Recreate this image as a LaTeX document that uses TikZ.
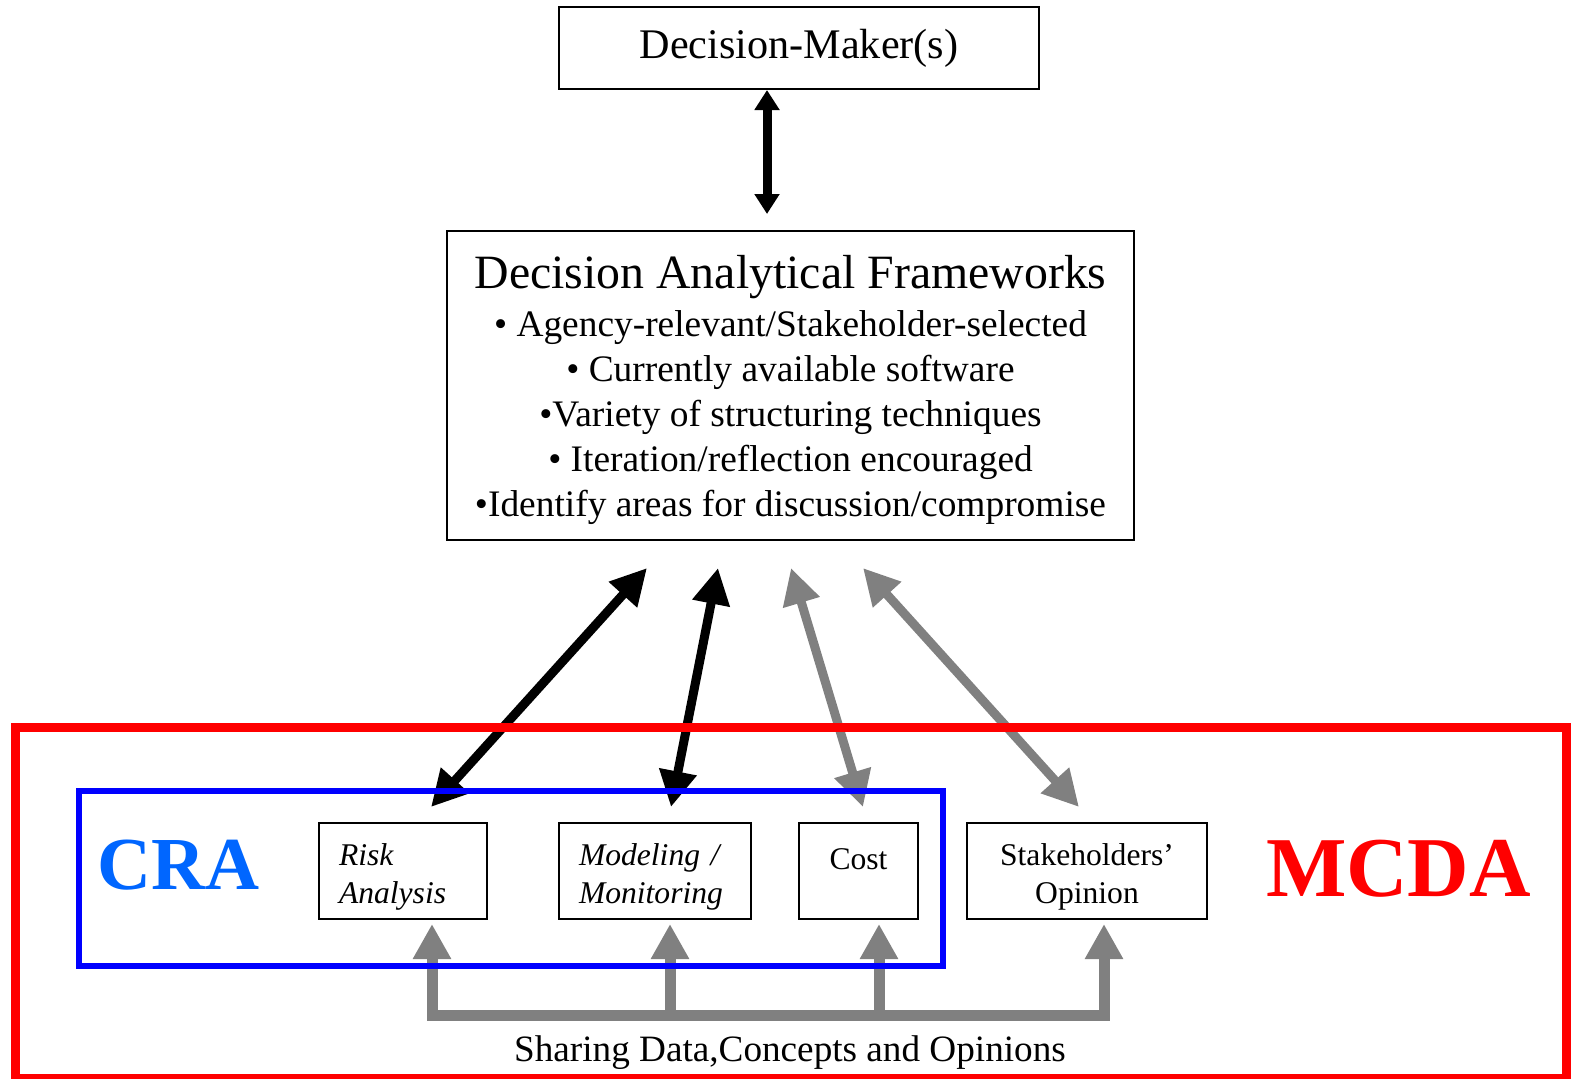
\documentclass[tikz,border=0pt]{standalone}
\usepackage{fontspec}
\setmainfont{Liberation Serif}
\usetikzlibrary{arrows.meta}
\definecolor{craBlue}{RGB}{0,102,255}
\definecolor{frameBlue}{RGB}{0,0,255}
\definecolor{frameRed}{RGB}{255,0,0}
\definecolor{linkGray}{RGB}{128,128,128}

\begin{document}
\begin{tikzpicture}[x=0.5pt, y=-0.5pt,
    box/.style={draw, line width=1pt, inner sep=0pt, minimum height=48pt, font=\fontsize{15.8}{19}\selectfont},
    biglink/.style={line width=4.5pt, {Triangle[length=18pt,width=18pt]}-{Triangle[length=18pt,width=18pt]}},
    sharelink/.style={draw=linkGray, line width=5.5pt, -{Triangle[length=17.5pt,width=18pt]}}]
    \useasboundingbox (0,0) rectangle (1574,1078);

    % Top boxes
    \node[draw, line width=1pt, minimum width=240pt, minimum height=41pt, font=\fontsize{21.1}{25}\selectfont] (dm) at (799,48) {Decision-Maker(s)};
    \node[draw, line width=1pt, inner sep=0pt, minimum width=343.5pt, minimum height=154.5pt, align=center, font=\fontsize{18.7}{22.55}\selectfont] (daf) at (790.5,385.5)
        {{\fontsize{23.9}{28}\selectfont\rule{0pt}{21pt}Decision Analytical Frameworks}\\[1.4pt]
         • Agency-relevant/Stakeholder-selected\\
         • Currently available software\\
         •Variety of structuring techniques\\
         • Iteration/reflection encouraged\\
         •Identify areas for discussion/compromise};

    % Bottom boxes
    \node[box, minimum width=84pt, text width=64pt, align=left] (risk) at (403,871) {\rule{0pt}{17pt}\itshape Risk\\\itshape Analysis};
    \node[box, minimum width=96pt, text width=76pt, align=left] (model) at (655,871) {\rule{0pt}{17pt}\itshape Modeling /\\\itshape Monitoring};
    \node[box, minimum width=59.5pt, align=center] (cost) at (858.5,871) {\rule{0pt}{17pt}Cost\\\mbox{}};
    \node[box, minimum width=120pt, align=center] (stake) at (1087,871) {\rule{0pt}{17pt}Stakeholders’\\Opinion};

    \node[font=\fontsize{37.4}{40}\selectfont\bfseries, text=craBlue] (cra) at (179,865) {CRA};
    \node[font=\fontsize{42.6}{46}\selectfont\bfseries, text=frameRed] (mcda) at (1398.5,869) {MCDA};
    \node[anchor=base, font=\fontsize{18.6}{22}\selectfont] (share) at (790,1061) {Sharing Data,Concepts and Opinions};

    % Link ends
    \coordinate (dmlink) at (767,214);
    \coordinate (daf-1) at (647,568);
    \coordinate (daf-2) at (718,568);
    \coordinate (daf-3) at (791,568);
    \coordinate (daf-4) at (863,568);
    \coordinate (risk-up) at (431,807);
    \coordinate (model-up) at (671,807);
    \coordinate (cost-up) at (863,807);
    \coordinate (stake-up) at (1079,807);
    \coordinate (risk-in) at (432,924);
    \coordinate (model-in) at (670,924);
    \coordinate (cost-in) at (879,924);
    \coordinate (stake-in) at (1104,924);
    \coordinate (bus-1) at (432,1015);
    \coordinate (bus-2) at (670,1015);
    \coordinate (bus-3) at (879,1015);
    \coordinate (bus-4) at (1104,1015);

    \draw[line width=4.5pt, {Triangle[length=10pt,width=12pt]}-{Triangle[length=10pt,width=12pt]}] (dm.south -| dmlink) -- (dmlink);

    \draw[biglink] (risk-up) -- (daf-1);
    \draw[biglink] (model-up) -- (daf-2);
    \draw[biglink, draw=linkGray, fill=linkGray] (cost-up) -- (daf-3);
    \draw[biglink, draw=linkGray, fill=linkGray] (stake-up) -- (daf-4);

    % Sharing bus
    \draw[sharelink, {Triangle[length=17.5pt,width=18pt]}-{Triangle[length=17.5pt,width=18pt]}, line join=miter] (risk-in) -- (bus-1) -- (bus-4) -- (stake-in);
    \draw[sharelink] (bus-2) -- (model-in);
    \draw[sharelink] (bus-3) -- (cost-in);

    % Frames
    \draw[frameRed, line width=4.5pt] (15,727) rectangle (1566,1078.5);
    \draw[frameBlue, line width=2.8pt] (79,791) rectangle (943,966);
\end{tikzpicture}
\end{document}
